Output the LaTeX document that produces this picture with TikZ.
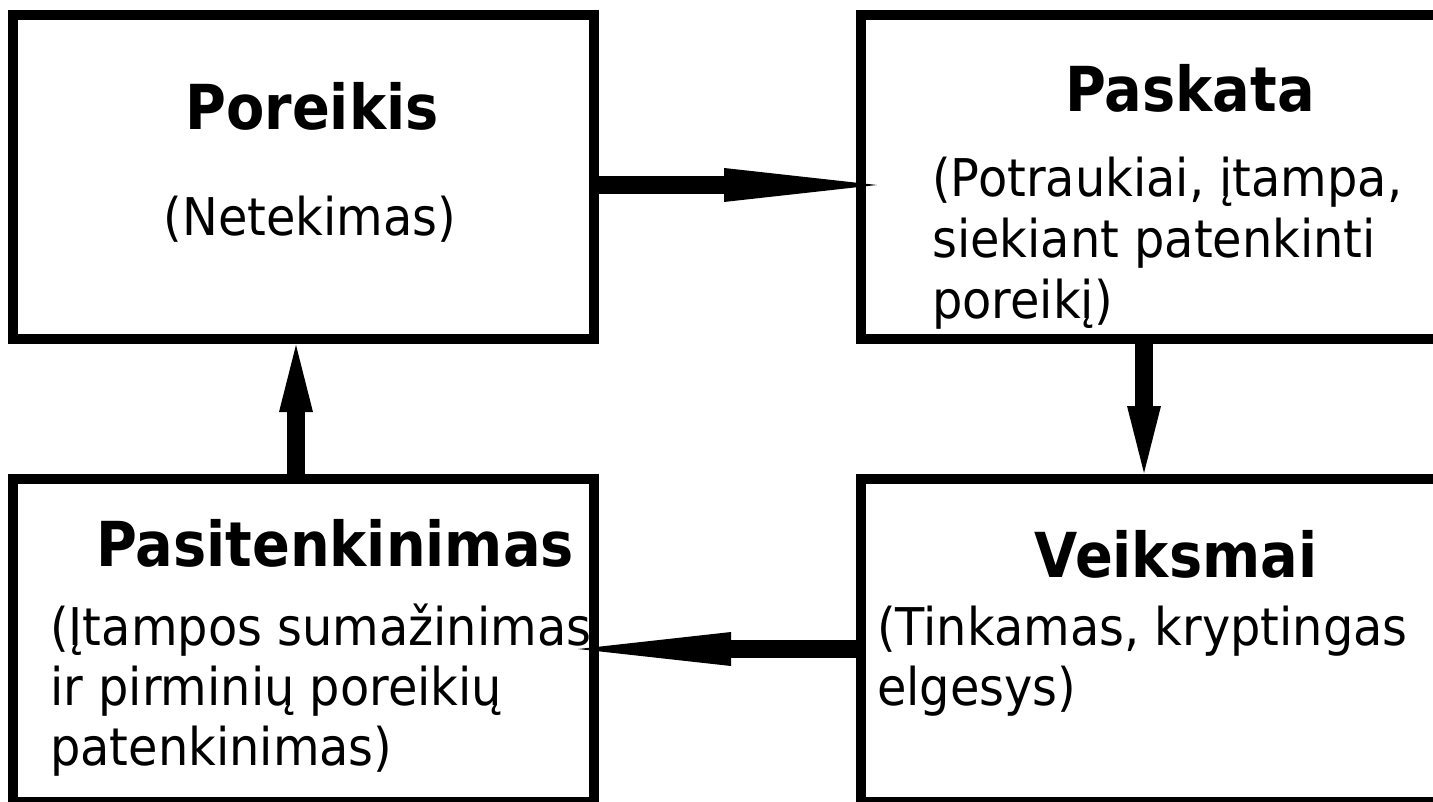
\documentclass[tikz,border=0pt]{standalone}
\usepackage{fontspec}
\setmainfont{DejaVu Sans}[FakeStretch=0.92]
\newfontfamily\boldface{DejaVu Sans Bold}[FakeStretch=0.9]
\usetikzlibrary{arrows.meta}
\tikzset{
  box/.style={draw=black, line width=10pt, inner sep=0pt, outer sep=0pt},
  title/.style={inner sep=0pt, anchor=base, font=\boldface\fontsize{62}{70}\selectfont},
  body/.style={inner sep=0pt, anchor=base west, font=\fontsize{52}{60}\selectfont},
  bodyc/.style={inner sep=0pt, anchor=base, font=\fontsize{52}{60}\selectfont},
  hflow/.style={line width=18pt, -{Triangle[length=153pt, width=34pt, line width=0pt]}},
  vflow/.style={line width=18pt, -{Triangle[length=67pt, width=34pt, line width=0pt]}}
}
\begin{document}
\begin{tikzpicture}[x=1pt, y=-1pt]
\useasboundingbox (0,0) rectangle (1433,802);
\fill[white] (0,0) rectangle (1433,802);
\clip (0,0) rectangle (1433,802);
% boxes
\node[box, minimum width=581pt, minimum height=324pt] (poreikis) at (303.5,177) {};
\node[box, minimum width=600pt, minimum height=324pt] (paskata) at (1161,177) {};
\node[box, minimum width=581pt, minimum height=323pt] (pasit) at (303.5,640.5) {};
\node[box, minimum width=600pt, minimum height=323pt] (veiksmai) at (1161,640.5) {};
% texts
\node[title] (t1) at (312,130) {Poreikis};
\node[bodyc] (t1a) at (310,236) {(Netekimas)};
\node[title] (t2) at (1190,112) {Paskata};
\node[body] (t2a) at (932,197) {(Potraukiai, įtampa,};
\node[body] (t2b) at (932,258) {siekiant patenkinti};
\node[body] (t2c) at (932,319) {poreikį)};
\node[title] (t3) at (335,566) {Pasitenkinimas};
\node[body] (t3a) at (50,645) {(Įtampos sumažinimas};
\node[body] (t3b) at (50,705) {ir pirminių poreikių};
\node[body] (t3c) at (50,765) {patenkinimas)};
\node[title] (t4) at (1176,577) {Veiksmai};
\node[body] (t4a) at (877,645) {(Tinkamas, kryptingas};
\node[body] (t4b) at (877,705) {elgesys)};
% connectors
\draw[hflow, shorten >=-16pt] (poreikis.east |- 0,185) -- (paskata.west |- 0,185);
\draw[vflow, shorten >=6pt] (paskata.south -| 1144,0) -- (veiksmai.north -| 1144,0);
\draw[hflow, shorten >=-16pt] (veiksmai.west |- 0,649) -- (pasit.east |- 0,649);
\draw[vflow, shorten >=6pt] (pasit.north -| 296,0) -- (poreikis.south -| 296,0);
\end{tikzpicture}
\end{document}
